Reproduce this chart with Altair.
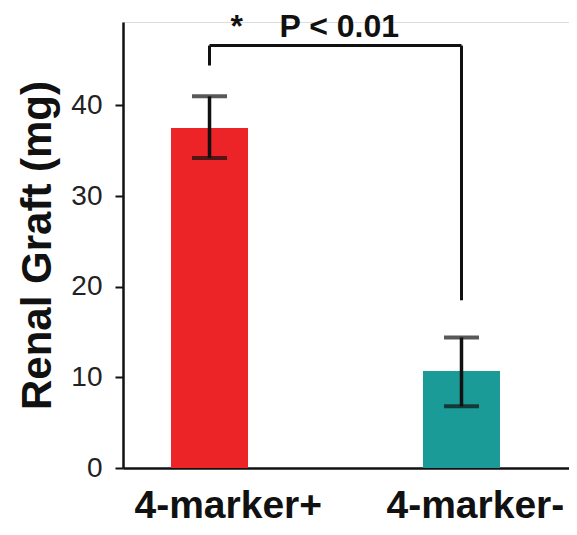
import altair as alt
import pandas as pd

groups = ["4-marker+", "4-marker-"]
means = [37.5, 10.7]
lower = [34.2, 6.8]
upper = [41.0, 14.4]
colors = ["#EC2327", "#1A9B98"]

# significance bracket (data units)
bracket_top = 46.6
bracket_left_end = 44.4
bracket_right_end = 18.5
sig_star = "*"
sig_text = "P < 0.01"
sig_y = 47.5

df = pd.DataFrame({"group": groups, "mean": means, "lo": lower, "hi": upper, "color": colors})

seg = pd.DataFrame({
    "x": [groups[0], groups[0], groups[1]],
    "x2": [groups[1], groups[0], groups[1]],
    "y": [bracket_top, bracket_left_end, bracket_right_end],
    "y2": [bracket_top, bracket_top, bracket_top],
})

ymax = 49.2
xscale = alt.Scale(domain=groups, paddingInner=0.698, paddingOuter=0.234, align=0.411)
yscale = alt.Scale(domain=[0, ymax], nice=False, zero=True)

xenc = alt.X("group:N", scale=xscale, sort=groups,
             axis=alt.Axis(title=None, labels=False, ticks=False, domainColor="#111",
                           domainWidth=2.5))
yenc = alt.Y("mean:Q", scale=yscale,
             axis=alt.Axis(title="Renal Graft (mg)", values=[0, 10, 20, 30, 40], grid=False,
                           labelFont="Liberation Sans", labelFontSize=28, labelColor="#222",
                           labelPadding=13, tickSize=8, tickWidth=2, tickColor="#111",
                           domainColor="#111", domainWidth=2.5,
                           titleFont="Liberation Sans", titleFontWeight="bold", titleFontSize=42,
                           titleColor="#111", titlePadding=11))

bars = alt.Chart(df).mark_bar(size=77).encode(
    x=xenc, y=yenc, color=alt.Color("color:N", scale=None)
)

xlabels = alt.Chart(df).mark_text(
    font="Liberation Sans", fontWeight="bold", fontSize=39, color="#111",
    baseline="alphabetic", align="left", dx=-75, dy=50
).encode(x=alt.X("group:N", scale=xscale, sort=groups), y=alt.datum(0), text="group:N")

err = alt.Chart(df).mark_rule(color="#111", strokeWidth=3.5).encode(
    x=alt.X("group:N", scale=xscale, sort=groups),
    y=alt.Y("lo:Q", scale=yscale), y2="hi:Q"
)
cap_lo = alt.Chart(df).mark_tick(color="#111", size=35, thickness=4).encode(
    x=alt.X("group:N", scale=xscale, sort=groups), y=alt.Y("lo:Q", scale=yscale)
)
cap_hi = alt.Chart(df).mark_tick(color="#111", size=35, thickness=4).encode(
    x=alt.X("group:N", scale=xscale, sort=groups), y=alt.Y("hi:Q", scale=yscale)
)

br = alt.Chart(seg).mark_rule(color="#111", strokeWidth=3).encode(
    x=alt.X("x:N", scale=xscale, sort=groups), x2="x2:N",
    y=alt.Y("y:Q", scale=yscale), y2="y2:Q"
)

star = alt.Chart(pd.DataFrame({"t": [sig_star], "g": [groups[0]], "y": [sig_y]})).mark_text(
    font="Liberation Sans", fontWeight="bold", fontSize=32, align="left", dx=21,
    baseline="alphabetic", color="#111"
).encode(x=alt.X("g:N", scale=xscale, sort=groups), y=alt.Y("y:Q", scale=yscale), text="t:N")

ptxt = alt.Chart(pd.DataFrame({"t": [sig_text], "g": [groups[0]], "y": [sig_y]})).mark_text(
    font="Liberation Sans", fontWeight="bold", fontSize=32, align="left", dx=70,
    baseline="alphabetic", color="#111"
).encode(x=alt.X("g:N", scale=xscale, sort=groups), y=alt.Y("y:Q", scale=yscale), text="t:N")

chart = alt.layer(bars, xlabels, err, cap_lo, cap_hi, br, star, ptxt).properties(
    width=446, height=446,
    autosize=alt.AutoSizeParams(type="none"),
    padding={"left": 115, "top": 14, "right": 0, "bottom": 59},
).configure_view(stroke=None).configure(background="white")

chart.save("out.html", embed_options={"renderer": "svg", "actions": False})
